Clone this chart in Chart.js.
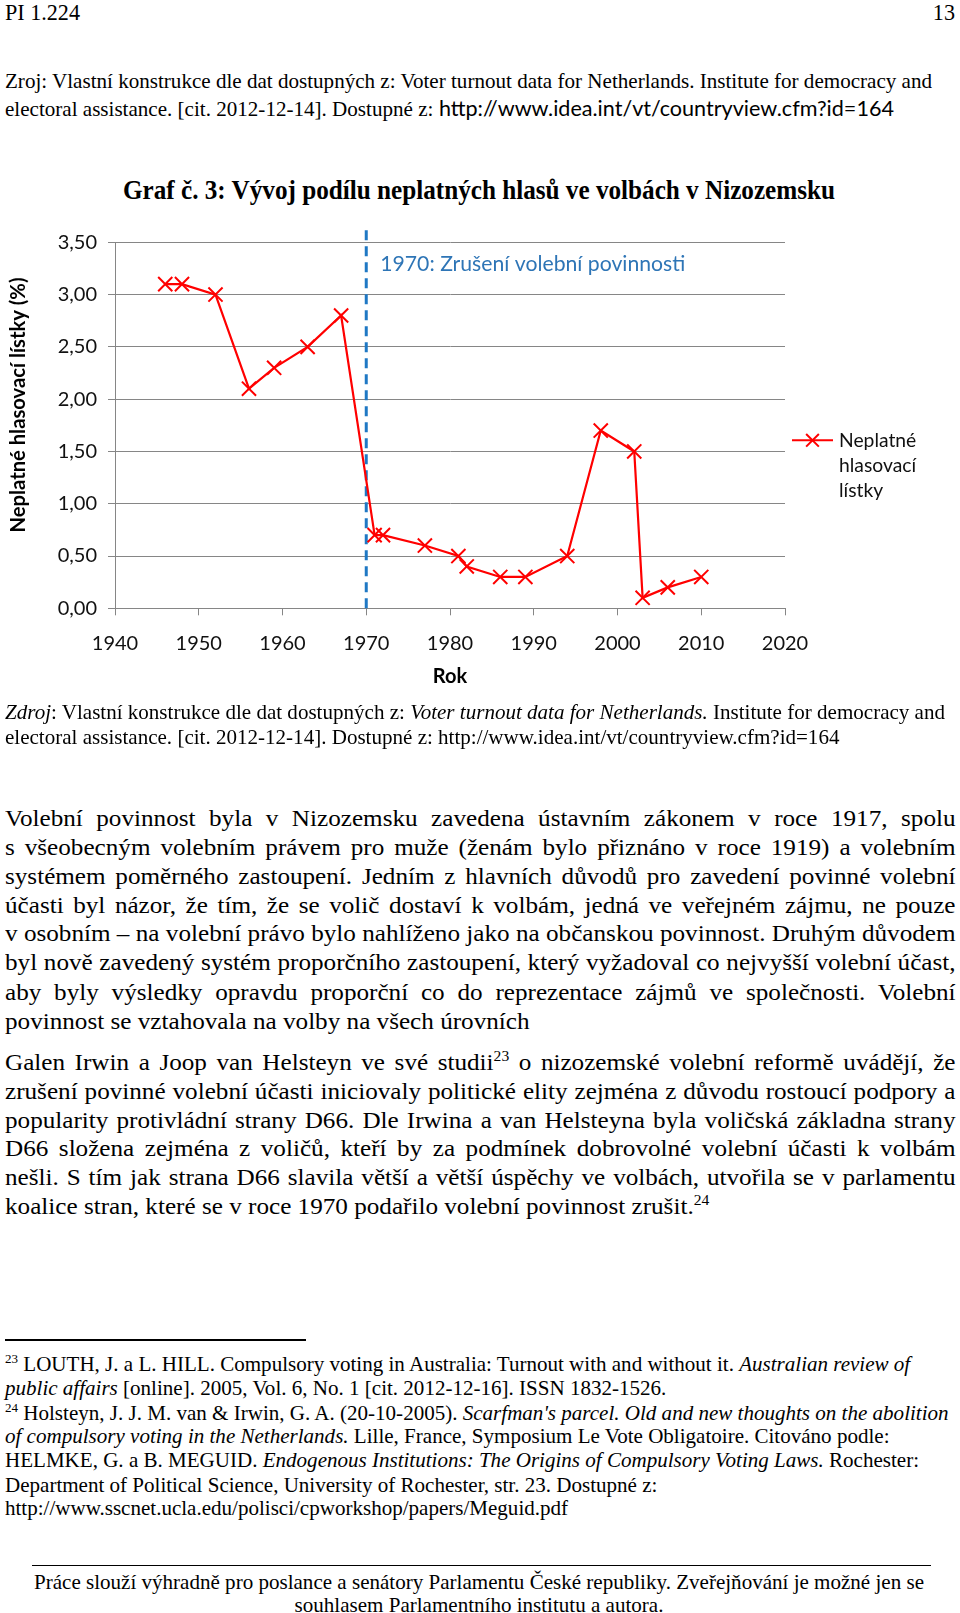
<!DOCTYPE html>
<html><head><meta charset="utf-8">
<script src="https://cdn.jsdelivr.net/npm/chart.js@4.4.1/dist/chart.umd.min.js"></script>
<style>
html,body{margin:0;padding:0;background:#fff;}
body{width:960px;height:1613px;position:relative;overflow:hidden;font-family:'Liberation Serif','Times New Roman',serif;color:#000;}
.ln{position:absolute;left:5px;white-space:nowrap;line-height:1.15;transform-origin:0 50%;}
.ln sup{font-size:62%;line-height:0;vertical-align:0.6em;}
.hd{font-size:24px;}
.zr{font-size:22px;}
.tt{font-size:27px;font-weight:bold;left:123px;}
.cp{font-size:22px;}
.bd{font-size:24px;}
.fn{font-size:21px;}
.ft{font-size:21px;left:0;width:958px;text-align:center;transform-origin:50% 50%;}
.url{display:inline-block;font-family:'Lato',sans-serif;transform-origin:0 50%;}
.rule{position:absolute;background:#000;}
#wrap{position:absolute;left:0;top:215px;width:960px;height:490px;}
</style></head>
<body>
<div class="ln hd" data-y="12.5"><span>PI 1.224</span></div>
<div class="ln hd" id="pg" data-y="12.5" style="left:auto;right:5px;transform-origin:100% 50%"><span>13</span></div>

<div class="ln zr" data-y="81"><span>Zroj: Vlastní konstrukce dle dat dostupných z: Voter turnout data for Netherlands. Institute for democracy and</span></div>
<div class="ln zr" data-y="108"><span>electoral assistance. [cit. 2012-12-14]. Dostupné z: <span class="url" id="url1">http://www.idea.int/vt/countryview.cfm?id=164</span></span></div>

<div class="ln tt" data-y="191"><span>Graf č. 3: Vývoj podílu neplatných hlasů ve volbách v Nizozemsku</span></div>

<div id="wrap"><canvas id="c" width="960" height="490"></canvas></div>

<div class="ln cp" data-y="712"><span><i>Zdroj</i>: Vlastní konstrukce dle dat dostupných z: <i>Voter turnout data for Netherlands.</i> Institute for democracy and</span></div>
<div class="ln cp" data-y="737"><span>electoral assistance. [cit. 2012-12-14]. Dostupné z: http://www.idea.int/vt/countryview.cfm?id=164</span></div>

<div class="ln bd" data-j="950" data-y="819"><span>Volební povinnost byla v Nizozemsku zavedena ústavním zákonem v roce 1917, spolu</span></div>
<div class="ln bd" data-j="950" data-y="848"><span>s všeobecným volebním právem pro muže (ženám bylo přiznáno v roce 1919) a volebním</span></div>
<div class="ln bd" data-j="950" data-y="877"><span>systémem poměrného zastoupení. Jedním z hlavních důvodů pro zavedení povinné volební</span></div>
<div class="ln bd" data-j="950" data-y="905.5"><span>účasti byl názor, že tím, že se volič dostaví k volbám, jedná ve veřejném zájmu, ne pouze</span></div>
<div class="ln bd" data-j="950" data-y="934"><span>v osobním – na volební právo bylo nahlíženo jako na občanskou povinnost. Druhým důvodem</span></div>
<div class="ln bd" data-j="950" data-y="963"><span>byl nově zavedený systém proporčního zastoupení, který vyžadoval co nejvyšší volební účast,</span></div>
<div class="ln bd" data-j="950" data-y="993"><span>aby byly výsledky opravdu proporční co do reprezentace zájmů ve společnosti. Volební</span></div>
<div class="ln bd" data-y="1022"><span>povinnost se vztahovala na volby na všech úrovních</span></div>

<div class="ln bd" data-j="950" data-y="1063"><span>Galen Irwin a Joop van Helsteyn ve své studii<sup>23</sup> o nizozemské volební reformě uvádějí, že</span></div>
<div class="ln bd" data-j="950" data-y="1092"><span>zrušení povinné volební účasti iniciovaly politické elity zejména z důvodu rostoucí podpory a</span></div>
<div class="ln bd" data-j="950" data-y="1120.5"><span>popularity protivládní strany D66. Dle Irwina a van Helsteyna byla voličská základna strany</span></div>
<div class="ln bd" data-j="950" data-y="1149"><span>D66 složena zejména z voličů, kteří by za podmínek dobrovolné volební účasti k volbám</span></div>
<div class="ln bd" data-j="950" data-y="1178"><span>nešli. S tím jak strana D66 slavila větší a větší úspěchy ve volbách, utvořila se v parlamentu</span></div>
<div class="ln bd" data-y="1207"><span>koalice stran, které se v roce 1970 podařilo volební povinnost zrušit.<sup>24</sup></span></div>

<div class="rule" style="left:5px;top:1339px;width:301px;height:2px"></div>
<div class="ln fn" data-y="1364.5"><span><sup>23</sup> LOUTH, J. a L. HILL. Compulsory voting in Australia: Turnout with and without it. <i>Australian review of</i></span></div>
<div class="ln fn" data-y="1388"><span><i>public affairs</i> [online]. 2005, Vol. 6, No. 1 [cit. 2012-12-16]. ISSN 1832-1526.</span></div>
<div class="ln fn" data-y="1413"><span><sup>24</sup> Holsteyn, J. J. M. van &amp; Irwin, G. A. (20-10-2005). <i>Scarfman's parcel. Old and new thoughts on the abolition</i></span></div>
<div class="ln fn" data-y="1436.5"><span><i>of compulsory voting in the Netherlands.</i> Lille, France, Symposium Le Vote Obligatoire. Citováno podle:</span></div>
<div class="ln fn" data-y="1460"><span>HELMKE, G. a B. MEGUID. <i>Endogenous Institutions: The Origins of Compulsory Voting Laws.</i> Rochester:</span></div>
<div class="ln fn" data-y="1485"><span>Department of Political Science, University of Rochester, str. 23. Dostupné z:</span></div>
<div class="ln fn" data-y="1508.5"><span>http://www.sscnet.ucla.edu/polisci/cpworkshop/papers/Meguid.pdf</span></div>

<div class="rule" style="left:32px;top:1565px;width:899px;height:1px"></div>
<div class="ln ft" data-y="1582.5"><span>Práce slouží výhradně pro poslance a senátory Parlamentu České republiky. Zveřejňování je možné jen se</span></div>
<div class="ln ft" data-y="1605"><span>souhlasem Parlamentního institutu a autora.</span></div>

<script>
// ---- data ----
const electionYears = [1946, 1948, 1952, 1956, 1959, 1963, 1967, 1971, 1972, 1977, 1981, 1982, 1986, 1989, 1994, 1998, 2002, 2003, 2006, 2010];
const invalidBallotsPct = [3.10, 3.10, 3.00, 2.10, 2.30, 2.50, 2.80, 0.70, 0.70, 0.60, 0.50, 0.40, 0.30, 0.30, 0.50, 1.70, 1.50, 0.10, 0.20, 0.30];
const xTickLabels = ['1940', '1950', '1960', '1970', '1980', '1990', '2000', '2010', '2020'];
const yTickLabels = ['0,00', '0,50', '1,00', '1,50', '2,00', '2,50', '3,00', '3,50'];
const reformYear = 1970;
const reformLabel = '1970: Zrušení volební povinnosti';
const seriesLabel = 'Neplatné hlasovací lístky';
const legendLines = ['Neplatné', 'hlasovací', 'lístky'];
const yAxisTitle = 'Neplatné hlasovací lístky (%)';
const xAxisTitle = 'Rok';

// ---- text fitting ----
function placeTops() {
  document.querySelectorAll('.ln').forEach(e => {
    const fs = parseFloat(getComputedStyle(e).fontSize);
    e.style.top = (parseFloat(e.dataset.y) - 0.575 * fs) + 'px';
  });
}
function group(sel, refIndex, refWidth) {
  const els = [...document.querySelectorAll(sel)];
  const nat = els.map(e => e.firstElementChild.getBoundingClientRect().width);
  let s;
  if (refIndex != null) s = refWidth / nat[refIndex];
  else s = Math.min(...els.map((e, i) => e.dataset.j ? parseFloat(e.dataset.j) / nat[i] : Infinity));
  els.forEach((e, i) => {
    e.style.transform = 'scaleX(' + s + ')';
    if (e.dataset.j) {
      e.style.whiteSpace = 'normal';
      e.style.width = (parseFloat(e.dataset.j) / s + 0.5) + 'px';
      e.style.textAlign = 'justify';
      e.style.textAlignLast = 'justify';
    }
  });
  return s;
}
placeTops();
group('.hd', 0, 75);
group('.zr', 0, 927);
group('.tt', 0, 712);
group('.cp', 0, 940);
group('.bd', null, null);
group('.fn', 4, 914);
group('.ft', 0, 890);
(function(){
  const u = document.getElementById('url1');
  const w = u.getBoundingClientRect().width;
  u.style.transform = 'scaleX(' + (455 / w) + ')';
})();

// ---- chart ----
const FONT = "'Lato', 'Liberation Sans', sans-serif";
const extras = {
  id: 'extras',
  beforeDatasetsDraw(chart) {
    const {ctx, chartArea, scales: {x}} = chart;
    const px = x.getPixelForValue(reformYear);
    ctx.save();
    ctx.strokeStyle = '#1f78c4';
    ctx.lineWidth = 3;
    ctx.setLineDash([10, 6]);
    ctx.beginPath();
    ctx.moveTo(px, chartArea.top - 12);
    ctx.lineTo(px, chartArea.bottom);
    ctx.stroke();
    ctx.restore();
  },
  afterDraw(chart) {
    const {ctx, chartArea, scales: {x}} = chart;
    ctx.save();
    // annotation
    ctx.fillStyle = '#2e75b6';
    ctx.font = '21.2px ' + FONT;
    ctx.textAlign = 'left';
    ctx.textBaseline = 'middle';
    ctx.fillText(reformLabel, x.getPixelForValue(reformYear) + 14, chartArea.top + 22);
    // y axis title
    ctx.fillStyle = '#000';
    ctx.font = 'bold 20.2px ' + FONT;
    ctx.translate(18.5, 405 - 215);
    ctx.rotate(-Math.PI / 2);
    ctx.textAlign = 'center';
    ctx.fillText(yAxisTitle, 0, 0);
    ctx.restore();
    // legend
    ctx.save();
    const ly = chartArea.top + 198;
    const lx = chartArea.right + 7;
    ctx.strokeStyle = '#ff0000';
    ctx.lineWidth = 2;
    ctx.beginPath();
    ctx.moveTo(lx, ly); ctx.lineTo(lx + 41, ly); ctx.stroke();
    Chart.helpers.drawPoint(ctx, {pointStyle: 'crossRot', radius: 9, borderWidth: 2}, lx + 20.5, ly);
    ctx.fillStyle = '#111';
    ctx.font = '19.3px ' + FONT;
    ctx.textAlign = 'left';
    ctx.textBaseline = 'middle';
    legendLines.forEach((t, i) => ctx.fillText(t, lx + 47, ly + i * 25));
    ctx.restore();
  }
};

new Chart(document.getElementById('c'), {
  type: 'line',
  data: {
    datasets: [{
      label: seriesLabel,
      data: electionYears.map((y, i) => ({x: y, y: invalidBallotsPct[i]})),
      borderColor: '#ff0000',
      backgroundColor: '#ff0000',
      borderWidth: 2.2,
      pointStyle: 'crossRot',
      pointRadius: 10,
      pointHoverRadius: 10,
      pointBorderWidth: 2,
      pointBorderColor: '#ff0000',
      tension: 0,
      fill: false
    }]
  },
  options: {
    responsive: false,
    animation: false,
    devicePixelRatio: 1,
    layout: {padding: {top: 27.3, right: 175, bottom: 0, left: 0}},
    plugins: {legend: {display: false}, tooltip: {enabled: false}},
    scales: {
      x: {
        type: 'linear', min: 1940, max: 2020,
        afterFit(s) { s.height = 96.7; },
        ticks: {stepSize: 10, padding: 16, color: '#111', font: {family: FONT, size: 20},
          maxRotation: 0, autoSkip: false,
          callback: (v, i) => xTickLabels[i]},
        grid: {drawOnChartArea: false, drawTicks: true, tickLength: 7, color: '#868686'},
        border: {display: true, color: '#868686', width: 1},
        title: {display: true, text: xAxisTitle, color: '#000', font: {family: FONT, size: 20, weight: 'bold'}, padding: {top: 0, bottom: 16}}
      },
      y: {
        min: 0, max: 3.5,
        afterFit(s) { s.width = 115; },
        ticks: {stepSize: 0.5, padding: 11, color: '#111', font: {family: FONT, size: 20},
          callback: (v, i) => yTickLabels[i]},
        grid: {color: '#868686', lineWidth: 1, drawTicks: true, tickLength: 7},
        border: {display: true, color: '#868686', width: 1}
      }
    }
  },
  plugins: [extras]
});
</script>
</body></html>
